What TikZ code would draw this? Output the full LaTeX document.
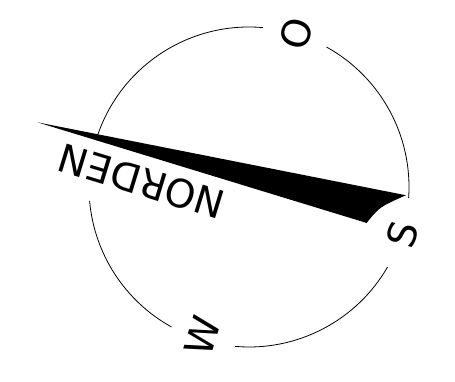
\documentclass[tikz,border=0pt]{standalone}
\usepackage{fontspec}
\newfontfamily\compassfont{DejaVu Sans}
\begin{document}
\begin{tikzpicture}[x=1pt,y=1pt,
  ring/.style={line width=0.8pt},
  letter/.style={font=\compassfont\fontsize{39}{42}\selectfont, inner sep=0pt, anchor=center},
  needle/.style={fill=black}]
\useasboundingbox (0,0) rectangle (455,382);
\begin{scope}[shift={(249,195)}, rotate=73, transform shape]
  % circle arcs between the letters
  \draw[ring] (12:160) arc[start angle=12, end angle=90, radius=160pt];
  \draw[ring] (112:160) arc[start angle=112, end angle=168, radius=160pt];
  \draw[ring] (192:160) arc[start angle=192, end angle=257, radius=160pt];
  \draw[ring] (283:160) arc[start angle=283, end angle=348, radius=160pt];
  % needle
  \coordinate (tip) at (0,221);
  \coordinate (edgeA) at (38,-152.5);
  \coordinate (edgeB) at (0,-123);
  \fill[needle] (tip) -- (edgeA) .. controls (19,-130.6) .. (edgeB) -- cycle;
  % letters
  \node[letter] (O) at (160.5,0) {O};
  \node[letter] (S) at (-1,-160.4) {S};
  \node[letter] (W) at (-156,1) {W};
  \node[letter, rotate=90] (N) at (-26,104.4) {NORDEN};
\end{scope}
\end{tikzpicture}
\end{document}
